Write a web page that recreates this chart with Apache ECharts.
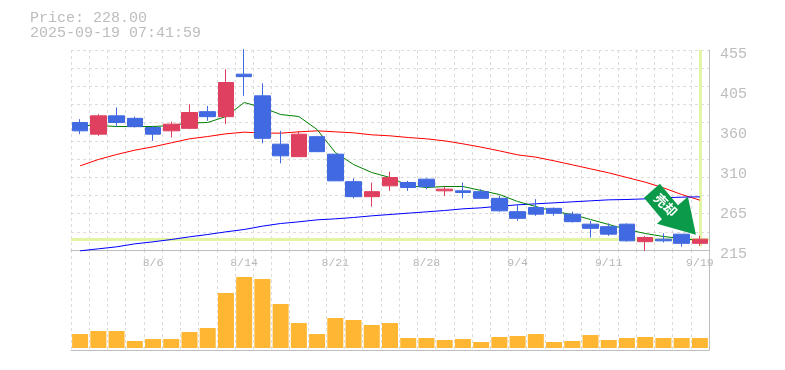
<!DOCTYPE html>
<html>
<head>
<meta charset="utf-8">
<style>html,body{margin:0;padding:0;background:#fff}#c{width:785px;height:370px}</style>
<script src="https://cdn.jsdelivr.net/npm/echarts@6/dist/echarts.min.js"></script>
</head>
<body>
<div id="c"></div>
<script>
const headerText = 'Price: 228.00\n2025-09-19 07:41:59';
const dates = ['7/31','8/1','8/4','8/5','8/6','8/7','8/8','8/12','8/13','8/14','8/15','8/18','8/19','8/20','8/21','8/22','8/25','8/26','8/27','8/28','8/29','9/1','9/2','9/3','9/4','9/5','9/8','9/9','9/10','9/11','9/12','9/16','9/17','9/18','9/19'];
const dateTicks = ['8/6','8/14','8/21','8/28','9/4','9/11','9/19'];
const priceTickValues = [215,263,311,359,407,455];
const priceTickLabels = ['215','265','310','360','405','455'];
// open, close, low, high
const candles = [
[368,358,354,372],[354,376,352,378],[376,368,363,386],[373,363,362,375],[362,354,346,364],
[358,366,350,369],[361,380,360,390],[381,375,370,388],[375,416,366,432],[426,423,400,456],
[400,349,343,415],[342,328,319,358],[327,354,327,358],[351,333,333,352],[330,298,298,330],
[297,279,277,301],[279,285,267,296],[292,302,286,309],[296,290,286,298],[300,291,288,301],
[286,288,280,291],[286,284,277,296],[285,277,277,288],[277,262,261,280],[261,253,250,270],
[266,258,256,276],[265,259,256,266],[258,249,248,261],[246,241,230,250],[243,234,232,247],
[246,226,225,247],[225,230,214,232],[228,226,224,235],[234,223,219,234],[223,228,220,232]];
const maShort = [364.4,364.4,363.2,363.2,363.2,364.4,367.4,368,375.2,392,386,377.6,375.2,359.6,332,317.6,308,302,292.4,290,291.2,291.2,286.4,281.6,273.2,267.2,261.2,257.6,251.6,245.6,239.6,234.8,231.2,228.8,226.4];
const maMid = [316,323.6,329.6,334.8,338.8,343.6,348.4,351.2,354.4,356.4,355.4,355.2,356.8,358,356.8,355.6,353.2,352,350,348.4,346,342.4,338.4,334,329.2,326.4,322,317.2,312.4,307.6,302,296.4,289.6,281.6,274.8];
const maLong = [214,216.4,218.8,222.4,224.8,227.6,230.8,233.6,236.8,239.6,243.6,246.8,248.8,251.2,252.4,254,256,257.6,259.2,260.8,262.4,264.4,265.6,267.6,269.2,270.4,271.6,272.8,274,275.2,275.6,276.4,277.6,278.4,278.8];
const volumes = [14,17,17,7,9,9,16,20,55,71,69,44,25,14,30,28,23,25,10,10,8,9,6,11,12,14,6,7,13,8,10,11,10,10,10];
const lastPrice = 228;

const GREY = '#bdbdbd', GRID = '#dcdcdc', FONT = '"Liberation Mono", monospace';
const mkLine = (data, color) => ({type:'line', data, xAxisIndex:0, yAxisIndex:0, showSymbol:false, symbol:'none', clip:false, z:2,
  lineStyle:{color, width:1}, silent:true});

const chart = echarts.init(document.getElementById('c'), null, {renderer:'canvas'});
chart.setOption({
  animation:false,
  backgroundColor:'#fff',
  title:{text:headerText, left:25, top:6, textStyle:{fontFamily:FONT, fontSize:15, fontWeight:'normal', color:'#bdbdbd', lineHeight:15}},
  grid:[{left:71, width:638, top:50, height:200},{left:71, width:638, top:250, height:100}],
  xAxis:[
    {type:'category', gridIndex:0, data:dates, boundaryGap:true,
     axisLine:{show:true,onZero:false,lineStyle:{color:GREY}}, axisTick:{show:false},
     axisLabel:{interval:(i,v)=>dateTicks.includes(v), color:'#b8b8b8', fontFamily:FONT, fontSize:11.5, margin:7, hideOverlap:false},
     splitLine:{show:true, interval:0, lineStyle:{color:GRID,type:[3,3]}}},
    {type:'category', gridIndex:1, data:dates, boundaryGap:true,
     axisLine:{show:true,onZero:false,lineStyle:{color:GREY}}, axisTick:{show:false}, axisLabel:{show:false},
     splitLine:{show:true, interval:0, lineStyle:{color:GRID,type:[3,3]}}}
  ],
  yAxis:[
    {type:'value', gridIndex:0, position:'right', min:215, max:455, scale:true,
     axisLine:{show:true,lineStyle:{color:GREY}}, axisTick:{show:false}, splitLine:{show:false},
     axisLabel:{customValues:priceTickValues, formatter:v=>priceTickLabels[priceTickValues.indexOf(v)],
       color:GREY, fontFamily:FONT, fontSize:15, margin:11, verticalAlign:'top', lineHeight:8}},
    {type:'value', gridIndex:0, position:'left', min:0, max:11, interval:1,
     axisLine:{show:false}, axisTick:{show:false}, axisLabel:{show:false},
     splitLine:{show:true, lineStyle:{color:GRID,type:[3,3]}}},
    {type:'value', gridIndex:1, position:'right', min:-2, max:98,
     axisLine:{show:true,lineStyle:{color:GREY}}, axisTick:{show:false}, axisLabel:{show:false}, splitLine:{show:false}}
  ],
  series:[
    mkLine(maMid,'#ff0000'),
    mkLine(maLong,'#0000ff'),
    mkLine(maShort,'#008000'),
    {type:'candlestick', data:candles, xAxisIndex:0, yAxisIndex:0, barWidth:16, clip:false, z:3, silent:true,
     itemStyle:{color:'#e0405f', color0:'#4169e1', borderColor:'#e0405f', borderColor0:'#4169e1', borderWidth:1},
     markLine:{silent:true, symbol:'none', z:1, label:{show:false}, animation:false,
       lineStyle:{color:'#e3f5a5', width:3, type:'solid'},
       data:[{yAxis:lastPrice},[{coord:['9/19',219]},{coord:['9/19',455]}]]},
     markPoint:{silent:true, z:20, animation:false,
       data:[{coord:['9/17',264], symbol:'path://M16 0 L0 14 L18 35.7 L13 40 L52 51 L44 13 L34 21.7 Z',
         symbolSize:[52,51], symbolOffset:[6.5,0], itemStyle:{color:'#0a9a4a'},
         label:{show:true, formatter:'売却', color:'#fff', fontSize:13, fontWeight:'bold', rotate:-45,
           fontFamily:'"Noto Sans CJK JP"', position:'inside', offset:[-6,0]}}]}},
    {type:'bar', data:volumes, xAxisIndex:1, yAxisIndex:2, barWidth:16, silent:true, itemStyle:{color:'#ffb733'}}
  ]
});
</script>
</body>
</html>
